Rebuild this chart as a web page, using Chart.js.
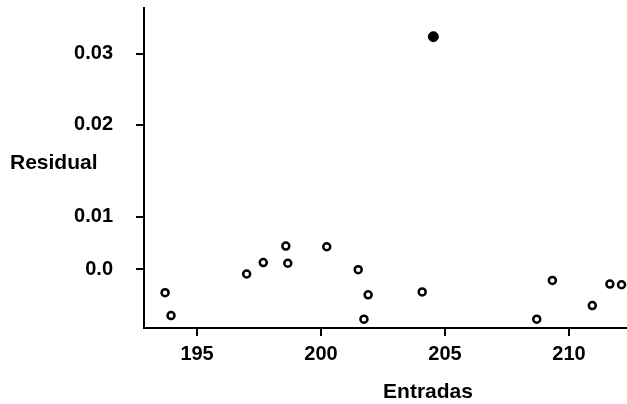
<!DOCTYPE html>
<html>
<head>
<meta charset="utf-8">
<script src="https://cdn.jsdelivr.net/npm/chart.js@4.4.1/dist/chart.umd.min.js"></script>
<style>
  body { margin: 0; background: #fff; }
  #wrap { width: 627px; height: 404px; }
</style>
</head>
<body>
<div id="wrap"><canvas id="myChart" width="627" height="404"></canvas></div>
<script>
// residuals vs entradas
const entradas = [193.71, 193.95, 197.0, 197.67, 198.58, 198.66, 200.23, 201.5, 201.9, 201.73,
  204.08, 208.7, 209.33, 210.94, 211.65, 212.12];
const residuals = [-0.0033, -0.0065, -0.0007, 0.0009, 0.0032, 0.0008, 0.0031, -0.0001, -0.0036, -0.0070,
  -0.0032, -0.0070, -0.0016, -0.0051, -0.0021, -0.0022];
const outlierX = [204.53];
const outlierY = [0.0324];

const xTicks = [195, 200, 205, 210];
// tick values where the labels sit in the picture (0.01 sits lower than a linear axis would put it)
const yTickValues = [0, 0.00726, 0.0201, 0.03];
const yTickLabels = ["0.0", "0.01", "0.02", "0.03"];

const xTitle = "Entradas";
const yTitle = "Residual";

const tickFont = { family: "'Liberation Sans', Arial, sans-serif", size: 20, weight: "bold" };

const axisTitles = {
  id: "axisTitles",
  afterDraw(chart) {
    const ctx = chart.ctx;
    const area = chart.chartArea;
    ctx.save();
    ctx.fillStyle = "#000";
    ctx.font = "bold 21px 'Liberation Sans', Arial, sans-serif";
    ctx.textBaseline = "middle";
    ctx.textAlign = "center";
    ctx.fillText(xTitle, area.left + 284, area.bottom + 64);
    ctx.textAlign = "left";
    ctx.fillText(yTitle, 10, area.top + 155);
    ctx.restore();
  },
};

new Chart(document.getElementById("myChart"), {
  type: "scatter",
  data: {
    datasets: [
      {
        label: "Residual",
        data: entradas.map((x, i) => ({ x: x, y: residuals[i] })),
        pointStyle: "circle",
        pointRadius: 3.5,
        borderWidth: 2.5,
        borderColor: "#000",
        backgroundColor: "#fff",
      },
      {
        label: "Outlier",
        data: outlierX.map((x, i) => ({ x: x, y: outlierY[i] })),
        pointStyle: "circle",
        pointRadius: 5,
        borderWidth: 1,
        borderColor: "#000",
        backgroundColor: "#000",
      },
    ],
  },
  options: {
    responsive: false,
    animation: false,
    layout: { autoPadding: false, padding: { top: 8, left: 0, right: 0, bottom: 0 } },
    plugins: {
      legend: { display: false },
      tooltip: { enabled: false },
    },
    scales: {
      x: {
        type: "linear",
        min: 192.86,
        max: 212.34,
        afterBuildTicks: (scale) => {
          scale.ticks = xTicks.map((v) => ({ value: v }));
        },
        afterFit: (scale) => {
          scale.height = 76;
          scale.paddingLeft = 0;
          scale.paddingRight = 0;
        },
        ticks: {
          color: "#000",
          font: tickFont,
          padding: 6,
          maxRotation: 0,
          callback: (v) => String(v),
        },
        grid: {
          drawOnChartArea: false,
          drawTicks: true,
          tickLength: 8,
          lineWidth: 2,
          color: "#000",
        },
        border: { color: "#000", width: 2 },
      },
      y: {
        type: "linear",
        min: -0.00823,
        max: 0.0364,
        afterBuildTicks: (scale) => {
          scale.ticks = yTickValues.map((v) => ({ value: v }));
        },
        afterFit: (scale) => {
          scale.width = 144;
          scale.paddingTop = 0;
          scale.paddingBottom = 0;
        },
        ticks: {
          color: "#000",
          font: tickFont,
          padding: 23,
          callback: (v, i) => yTickLabels[i],
        },
        grid: {
          drawOnChartArea: false,
          drawTicks: true,
          tickLength: 8,
          lineWidth: 2,
          color: "#000",
        },
        border: { color: "#000", width: 2 },
      },
    },
  },
  plugins: [axisTitles],
});
</script>
</body>
</html>
